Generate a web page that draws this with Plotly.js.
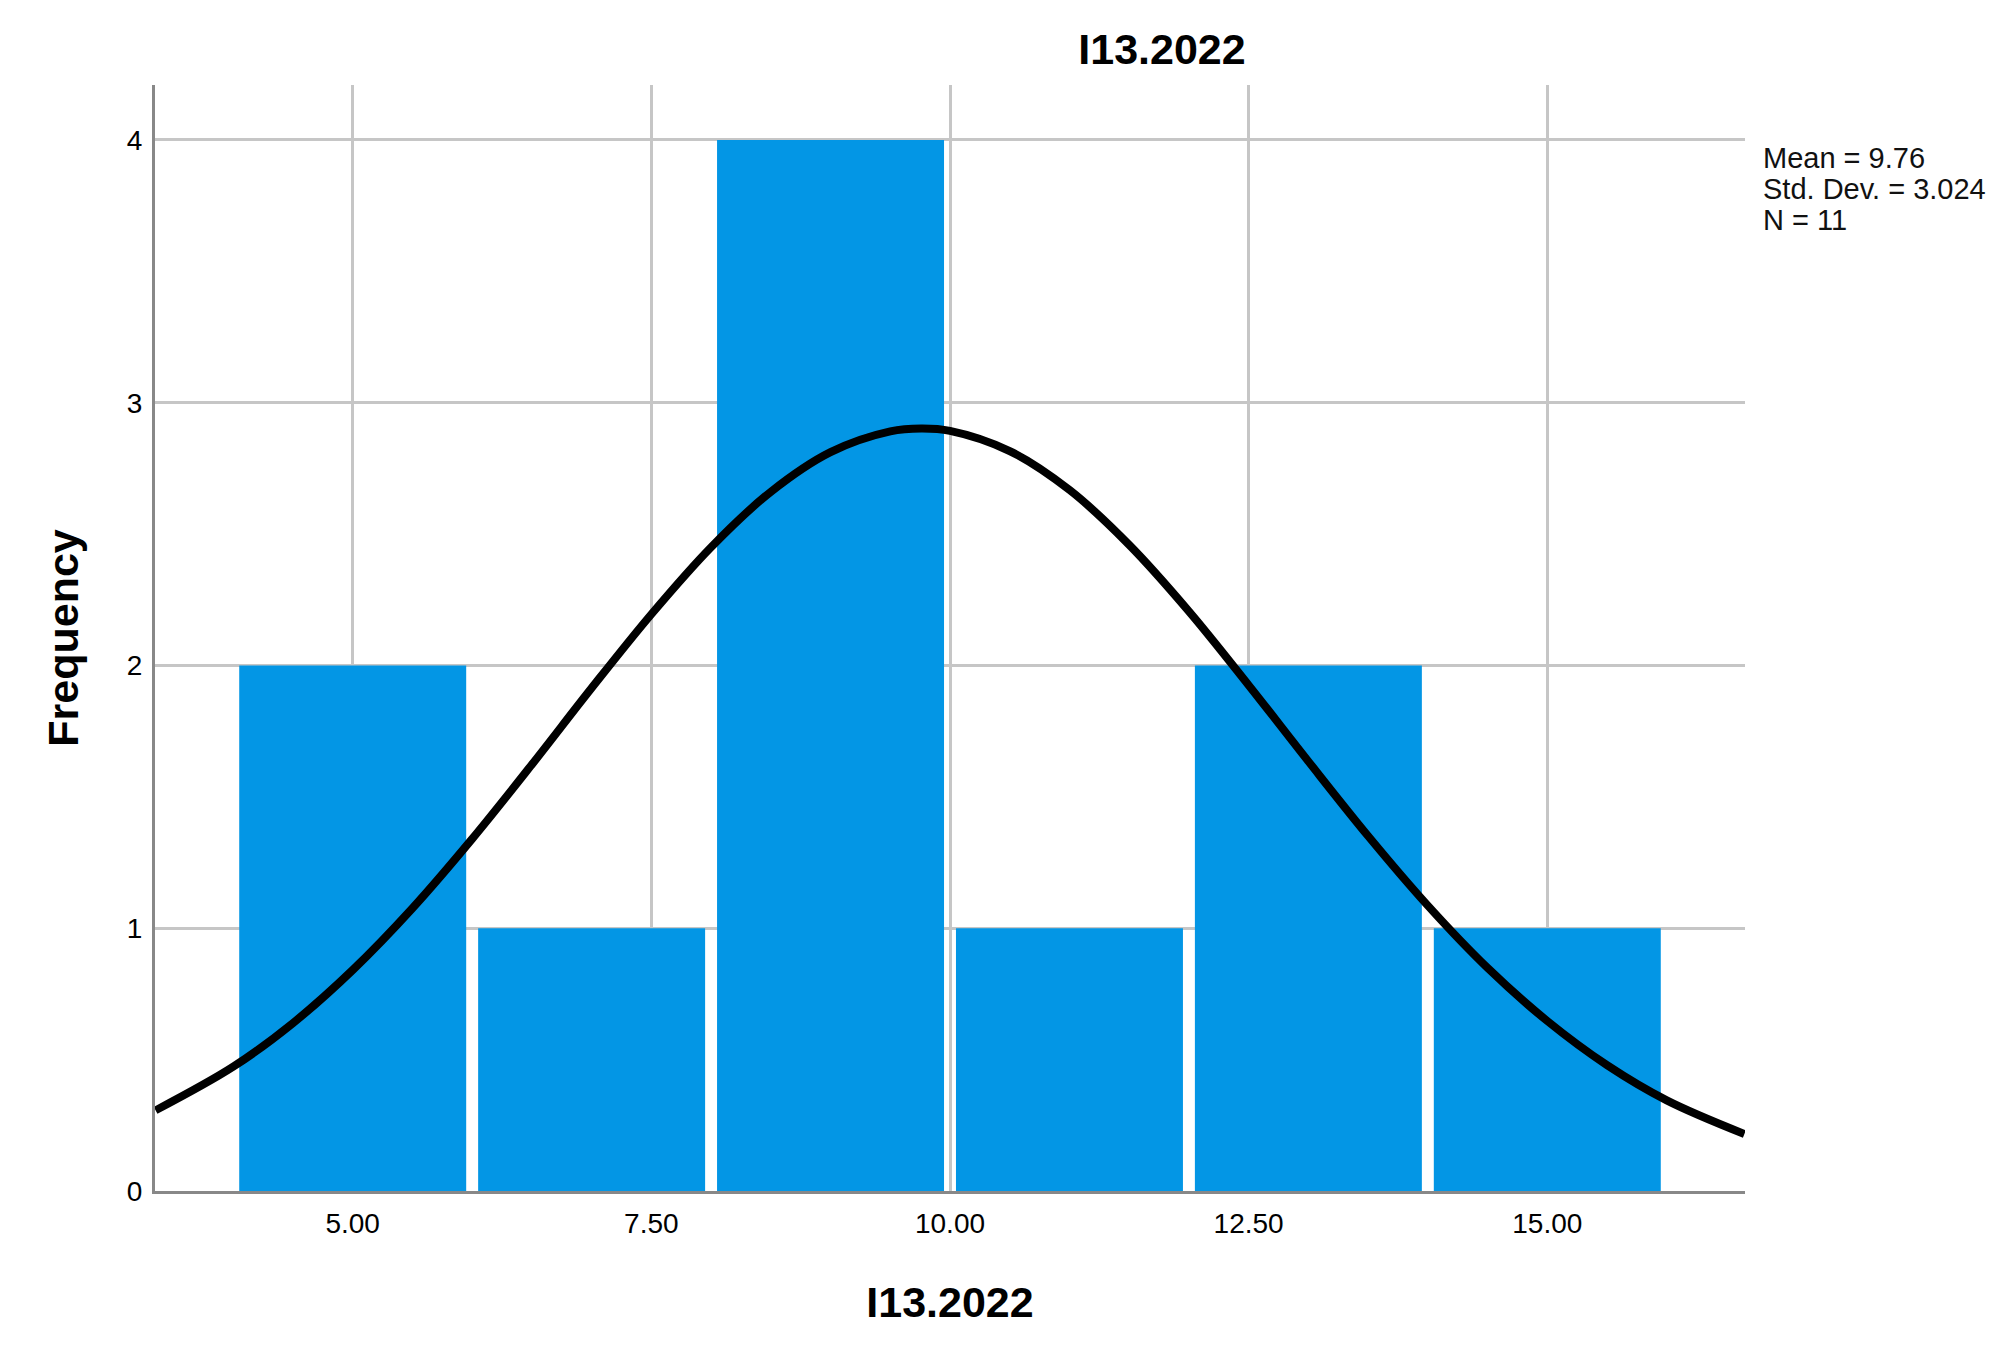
<!DOCTYPE html>
<html>
<head>
<meta charset="utf-8">
<script src="https://cdn.plot.ly/plotly-3.0.1.min.js"></script>
<style>
  body { margin: 0; background: #fff; }
  #histPlot { width: 2006px; height: 1360px; }
</style>
</head>
<body>
<div id="histPlot"></div>
<script>
// histogram bins (centres) and counts
const binCenters = [5, 7, 9, 11, 13, 15];
const binCounts = [2, 1, 4, 1, 2, 1];

// normal curve
const curveX = [3.35, 4, 4.5, 5, 5.5, 6, 6.5, 7, 7.5, 8, 8.5, 9, 9.5, 9.76, 10, 10.5, 11, 11.5, 12, 12.5, 13, 13.5, 14, 14.5, 15, 15.5, 16, 16.65];
const curveY = [0.307, 0.473, 0.639, 0.841, 1.076, 1.340, 1.623, 1.914, 2.195, 2.450, 2.661, 2.812, 2.891, 2.902, 2.893, 2.816, 2.668, 2.459, 2.206, 1.925, 1.635, 1.351, 1.086, 0.849, 0.647, 0.479, 0.345, 0.217];

const xTickVals = [5, 7.5, 10, 12.5, 15];
const xTickText = ["5.00", "7.50", "10.00", "12.50", "15.00"];
const statsLines = ["Mean = 9.76", "Std. Dev. = 3.024", "N = 11"];

function drawHistogram() {
    const font = "Arial, 'Liberation Sans', sans-serif";

    const data = [
        {
            x: binCenters,
            y: binCounts,
            type: "bar",
            width: 1.9,
            marker: {color: "#0396e5", line: {width: 0}},
            hoverinfo: "x+y"
        },
        {
            x: curveX,
            y: curveY,
            mode: "lines",
            line: {color: "#000", width: 8, shape: "spline"},
            hoverinfo: "skip"
        }
    ];

    // stats text at top right, one annotation per line
    const annotations = statsLines.map(function (t, i) {
        return {
            text: t,
            xref: "paper", yref: "paper",
            x: (1761 - 155) / 1590,
            y: (1191 - (158 + i * 31)) / 1106,
            xanchor: "left", yanchor: "middle",
            showarrow: false,
            font: {family: font, size: 29, color: "#111"}
        };
    });

    const layout = {
        width: 2006,
        height: 1360,
        margin: {l: 155, r: 261, t: 85, b: 169},
        paper_bgcolor: "#fff",
        plot_bgcolor: "#fff",
        showlegend: false,
        font: {family: font, color: "#000"},
        title: {
            text: "<b>I13.2022</b>",
            font: {family: font, size: 43, color: "#000"},
            xref: "paper", x: (1162 - 155) / 1590, xanchor: "center",
            yref: "container", y: 1 - 49 / 1360, yanchor: "middle"
        },
        xaxis: {
            range: [3.345, 16.655],
            tickvals: xTickVals,
            ticktext: xTickText,
            tickfont: {family: font, size: 28, color: "#000"},
            ticks: "",
            ticklabelstandoff: 5,
            showgrid: true,
            gridcolor: "#c6c6c6",
            gridwidth: 3,
            showline: true,
            linecolor: "#888",
            linewidth: 3,
            zeroline: false,
            title: {
                text: "<b>I13.2022</b>",
                font: {family: font, size: 43, color: "#000"},
                standoff: 50
            }
        },
        yaxis: {
            range: [0, 4.209],
            dtick: 1,
            tickfont: {family: font, size: 28, color: "#000"},
            ticks: "",
            ticklabelstandoff: 4,
            showgrid: true,
            gridcolor: "#c6c6c6",
            gridwidth: 3,
            showline: true,
            linecolor: "#888",
            linewidth: 3,
            zeroline: false,
            title: {
                text: "<b>Frequency</b>",
                font: {family: font, size: 43, color: "#000"},
                standoff: 35
            }
        },
        annotations: annotations
    };

    Plotly.newPlot("histPlot", data, layout, {displayModeBar: false, staticPlot: true});
}

drawHistogram();
</script>
</body>
</html>
